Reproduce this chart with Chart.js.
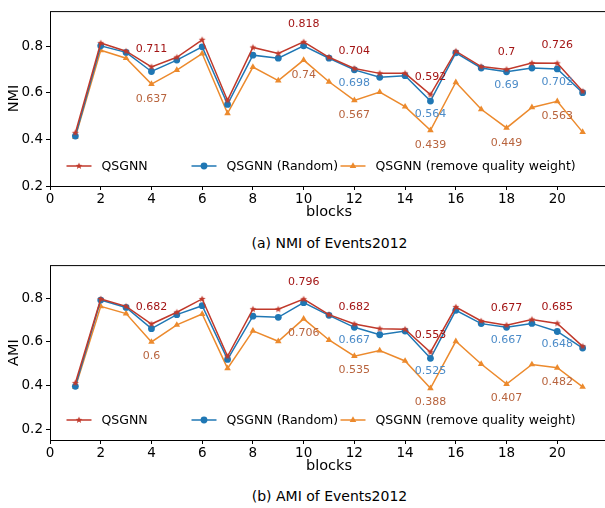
<!DOCTYPE html>
<html>
<head>
<meta charset="utf-8">
<script src="https://cdn.jsdelivr.net/npm/chart.js@4/dist/chart.umd.min.js"></script>
<style>
  html, body { margin: 0; padding: 0; background: #fff; overflow: hidden; width: 605px; height: 508px; }
  .box { position: absolute; left: 0; width: 612px; }
  .cap { position: absolute; left: 0; width: 659px; text-align: center; font-family: "DejaVu Sans"; font-size: 14px; color: #000; }
</style>
</head>
<body>
<div class="box" style="top:0;height:222px"><canvas id="nmiChart"></canvas></div>
<div class="cap" style="top:235px">(a) NMI of Events2012</div>
<div class="box" style="top:254px;height:222px"><canvas id="amiChart"></canvas></div>
<div class="cap" style="top:488px">(b) AMI of Events2012</div>
<script>
const blocks = [1, 2, 3, 4, 5, 6, 7, 8, 9, 10, 11, 12, 13, 14, 15, 16, 17, 18, 19, 20, 21];
const seriesNames = ["QSGNN", "QSGNN (Random)", "QSGNN (remove quality weight)"];

const nmiQsgnn  = [0.428, 0.813, 0.778, 0.711, 0.752, 0.827, 0.567, 0.794, 0.768, 0.818, 0.752, 0.704, 0.683, 0.683, 0.592, 0.778, 0.712, 0.7, 0.727, 0.726, 0.606];
const nmiRandom = [0.414, 0.801, 0.773, 0.691, 0.74, 0.797, 0.55, 0.761, 0.748, 0.801, 0.748, 0.698, 0.666, 0.673, 0.564, 0.771, 0.706, 0.69, 0.706, 0.702, 0.6];
const nmiNoQw   = [0.41, 0.782, 0.748, 0.637, 0.697, 0.768, 0.512, 0.71, 0.652, 0.74, 0.647, 0.567, 0.603, 0.54, 0.439, 0.645, 0.529, 0.449, 0.537, 0.563, 0.431];

const amiQsgnn  = [0.412, 0.797, 0.763, 0.682, 0.736, 0.797, 0.534, 0.75, 0.75, 0.796, 0.725, 0.682, 0.661, 0.658, 0.553, 0.76, 0.696, 0.677, 0.703, 0.685, 0.58];
const amiRandom = [0.397, 0.792, 0.758, 0.661, 0.725, 0.766, 0.52, 0.718, 0.713, 0.78, 0.722, 0.667, 0.633, 0.65, 0.525, 0.745, 0.684, 0.667, 0.685, 0.648, 0.572];
const amiNoQw   = [0.393, 0.763, 0.73, 0.6, 0.678, 0.728, 0.479, 0.651, 0.603, 0.706, 0.609, 0.535, 0.561, 0.513, 0.388, 0.603, 0.499, 0.407, 0.497, 0.482, 0.394];

// which blocks get a value label, per series
const labelBlocksQsgnn  = [4, 10, 12, 15, 18, 20];
const labelBlocksRandom = [12, 15, 18, 20];
const labelBlocksNoQw   = [4, 10, 12, 15, 18, 20];
const labelSets = [labelBlocksQsgnn, labelBlocksRandom, labelBlocksNoQw];

const xTicks = [0, 2, 4, 6, 8, 10, 12, 14, 16, 18, 20];
const yTicks = [0.2, 0.4, 0.6, 0.8];

const FONT = "DejaVu Sans";
const lineColors = ["#c0392b", "#1f77b4", "#ec8a2d"];
const labelColors = ["#a31515", "#4b8bc8", "#b8643e"];
const labelOffsets = [0.076, -0.057, -0.065];

// matplotlib-like filled star marker
function makeStar(color, r) {
  const c = document.createElement("canvas");
  const s = Math.ceil(r * 2 + 2);
  c.width = s; c.height = s;
  const g = c.getContext("2d");
  g.fillStyle = color;
  g.beginPath();
  for (let i = 0; i < 10; i++) {
    const rad = i % 2 === 0 ? r : r * 0.42;
    const a = -Math.PI / 2 + i * Math.PI / 5;
    const px = s / 2 + rad * Math.cos(a);
    const py = s / 2 + rad * Math.sin(a);
    if (i === 0) g.moveTo(px, py); else g.lineTo(px, py);
  }
  g.closePath();
  g.fill();
  return c;
}
const starImg = makeStar(lineColors[0], 3.6);
const pointStyles = [starImg, "circle", "triangle"];
const pointRadii = [3.6, 3.4, 3.8];

const boxPlugin = {
  id: "box",
  afterDraw(chart) {
    const { ctx, chartArea: a } = chart;
    ctx.save();
    ctx.strokeStyle = "#000";
    ctx.lineWidth = 1;
    ctx.strokeRect(a.left + 0.5, a.top + 0.5, a.right - a.left, a.bottom - a.top);
    ctx.restore();
  }
};

const valueLabels = {
  id: "valueLabels",
  afterDatasetsDraw(chart) {
    const { ctx, scales: { x, y } } = chart;
    ctx.save();
    ctx.font = "11px " + FONT;
    ctx.textAlign = "center";
    ctx.textBaseline = "middle";
    labelSets.forEach((lb, i) => {
      const vals = chart.data.datasets[i].data;
      ctx.fillStyle = labelColors[i];
      lb.forEach(b => {
        const pt = vals[blocks.indexOf(b)];
        ctx.fillText(String(pt.y), x.getPixelForValue(b), y.getPixelForValue(pt.y + labelOffsets[i]));
      });
    });
    ctx.restore();
  }
};

const innerLegend = {
  id: "innerLegend",
  afterDraw(chart) {
    const { ctx, chartArea: a } = chart;
    const ly = a.bottom - 20;
    const starts = [16.5, 141.5, 290.5];
    ctx.save();
    ctx.font = "12.5px " + FONT;
    ctx.textBaseline = "middle";
    ctx.textAlign = "left";
    chart.data.datasets.forEach((ds, i) => {
      const x0 = a.left + starts[i];
      ctx.strokeStyle = lineColors[i];
      ctx.lineWidth = 1.5;
      ctx.beginPath();
      ctx.moveTo(x0, ly);
      ctx.lineTo(x0 + 25, ly);
      ctx.stroke();
      ctx.fillStyle = lineColors[i];
      Chart.helpers.drawPoint(ctx, { pointStyle: pointStyles[i], radius: pointRadii[i], rotation: 0, borderWidth: 0 }, x0 + 12.5, ly);
      ctx.fillStyle = "#000";
      ctx.fillText(ds.label, x0 + 35, ly + 0.5);
    });
    ctx.restore();
  }
};

function makeChart(id, series, yTitle, yMin, yMax) {
  const ctx = document.getElementById(id).getContext("2d");
  return new Chart(ctx, {
    type: "line",
    data: {
      datasets: series.map((vals, i) => ({
        label: seriesNames[i],
        data: vals.map((v, k) => ({ x: blocks[k], y: v })),
        borderColor: lineColors[i],
        backgroundColor: lineColors[i],
        borderWidth: 1.5,
        pointStyle: pointStyles[i],
        pointRadius: pointRadii[i],
        pointBorderWidth: 0,
        tension: 0,
        fill: false
      }))
    },
    options: {
      responsive: true,
      maintainAspectRatio: false,
      animation: false,
      events: [],
      layout: { padding: { top: 7, left: 0, right: 2, bottom: 0 } },
      plugins: {
        legend: { display: false },
        tooltip: { enabled: false }
      },
      scales: {
        x: {
          type: "linear",
          min: 0,
          max: 22,
          afterBuildTicks: s => { s.ticks = xTicks.map(v => ({ value: v })); },
          afterFit: s => { s.height = 36; },
          grid: { display: true, drawOnChartArea: false, drawTicks: true, tickLength: 4, color: "#000" },
          border: { display: false },
          ticks: { color: "#000", font: { family: FONT, size: 13.5 }, padding: 1, maxRotation: 0 },
          title: { display: true, text: "blocks", color: "#000", font: { family: FONT, size: 14.5 }, padding: { top: 0, bottom: 1.5 } }
        },
        y: {
          min: yMin,
          max: yMax,
          afterBuildTicks: s => { s.ticks = yTicks.map(v => ({ value: v })); },
          afterFit: s => { s.width = 50; },
          grid: { display: true, drawOnChartArea: false, drawTicks: true, tickLength: 4, color: "#000" },
          border: { display: false },
          ticks: { color: "#000", font: { family: FONT, size: 13.5 }, padding: 3, callback: v => v.toFixed(1) },
          title: { display: true, text: yTitle, color: "#000", font: { family: FONT, size: 14.5 }, padding: { top: 6, bottom: 0 } }
        }
      }
    },
    plugins: [boxPlugin, valueLabels, innerLegend]
  });
}

makeChart("nmiChart", [nmiQsgnn, nmiRandom, nmiNoQw], "NMI", 0.2, 0.95);
makeChart("amiChart", [amiQsgnn, amiRandom, amiNoQw], "AMI", 0.151, 0.952);
</script>
</body>
</html>
